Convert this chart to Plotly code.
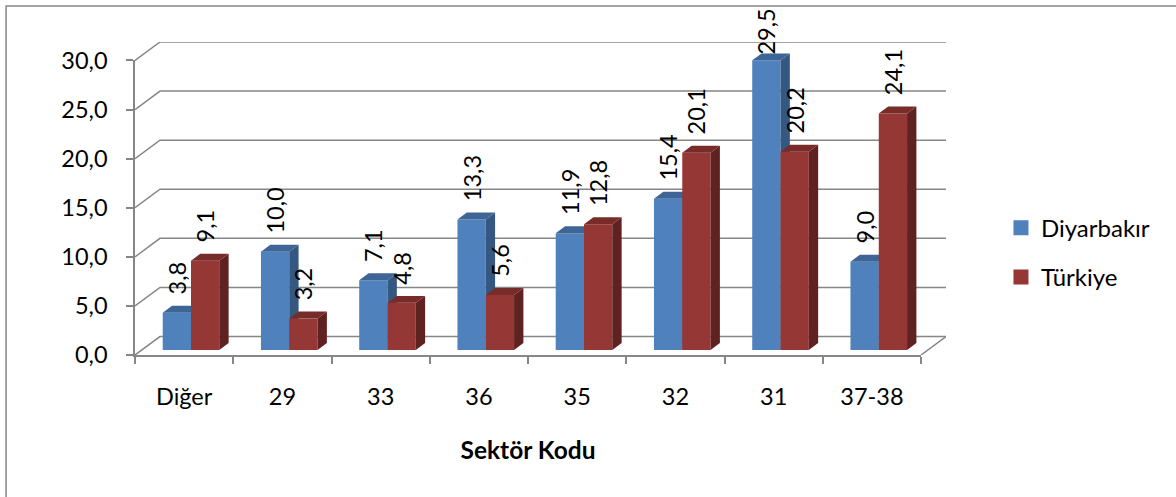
import plotly.graph_objects as go

categories = ["Diğer", "29", "33", "36", "35", "32", "31", "37-38"]
diyarbakir = [3.8, 10.0, 7.1, 13.3, 11.9, 15.4, 29.5, 9.0]
turkiye = [9.1, 3.2, 4.8, 5.6, 12.8, 20.1, 20.2, 24.1]
y_ticks = [0, 5, 10, 15, 20, 25, 30]

W, H = 1176, 497
L, R, T, B = 134.5, 946.0, 41.5, 355.0      # full area, including the back wall
FLOOR_R, WALL_T = 921.0, 60.0               # front plane edges
FONT = "Lato"
GREY = "#868686"
BLUE, BLUE_SIDE, BLUE_TOP = "#4F81BD", "#34587F", "#3E6595"
RED, RED_SIDE, RED_TOP = "#953735", "#5F2220", "#772C2A"

n = len(categories)
X_MAX = n * (R - L) / (FLOOR_R - L)
Y_MAX = 30 * (B - T) / (B - WALL_T)

# Oblique projection constants, in axis units
WALL_DX, WALL_DY = X_MAX - n, Y_MAX - 30
BAR_DX, BAR_DY = 0.095, 0.71
BASE = 0.51
BAR_W = 0.288
BLUE_OFF = 0.282
LIFT = 1.55
LABEL_CAP = 30.3

fig = go.Figure()

# Legend entries live on the base axes (which also carry the visible axis lines)
for name, c in (("Diyarbakır", BLUE), ("Türkiye", RED)):
    fig.add_trace(go.Scatter(x=[None], y=[None], mode="markers", name=name,
                             marker=dict(symbol="square", size=15, color=c),
                             legendgroup=name))

# Back wall grid + floor
gx, gy = [], []
for v in y_ticks:
    gx += [0, WALL_DX, n + WALL_DX, None]
    gy += [v, v + WALL_DY, v + WALL_DY, None]
gx += [n, n + WALL_DX, None]
gy += [0, WALL_DY, None]
fig.add_trace(go.Scatter(x=gx, y=gy, mode="lines", line=dict(color=GREY, width=1.5),
                         cliponaxis=False, showlegend=False, hoverinfo="skip",
                         xaxis="x2", yaxis="y2"))


def add_series(values, off, front, side, top, name, axis_no):
    xa, ya = f"x{axis_no}", f"y{axis_no}"
    xs = [i + off for i in range(n)]
    fig.add_trace(go.Bar(x=xs, y=values, base=[BASE] * n, width=BAR_W, offset=0,
                         marker=dict(color=front, line=dict(width=0)),
                         name=name, xaxis=xa, yaxis=ya, cliponaxis=False,
                         showlegend=False, legendgroup=name))
    sx, sy, tx, ty = [], [], [], []
    for x0, v in zip(xs, values):
        x1 = x0 + BAR_W
        yt = BASE + v
        sx += [x1, x1 + BAR_DX, x1 + BAR_DX, x1, x1, None]
        sy += [BASE, BASE + BAR_DY, yt + BAR_DY, yt, BASE, None]
        tx += [x0, x1, x1 + BAR_DX, x0 + BAR_DX, x0, None]
        ty += [yt, yt, yt + BAR_DY, yt + BAR_DY, yt, None]
    for px, py, c in ((sx, sy, side), (tx, ty, top)):
        fig.add_trace(go.Scatter(x=px, y=py, mode="lines", fill="toself", fillcolor=c,
                                 line=dict(width=0, color=c), xaxis=xa, yaxis=ya,
                                 cliponaxis=False, showlegend=False, hoverinfo="skip",
                                 legendgroup=name))


def add_labels(values, off, axis_no):
    xa, ya = f"x{axis_no}", f"y{axis_no}"
    xs = [i + off for i in range(n)]
    text = [f"{v:.1f}".replace(".", ",") for v in values]
    lifted = [min(v + LIFT, LABEL_CAP - BASE) for v in values]
    fig.add_trace(go.Bar(x=xs, y=lifted, base=[BASE] * n, width=BAR_W, offset=0,
                         marker=dict(color="rgba(0,0,0,0)", line=dict(width=0)),
                         text=text, textposition="outside", textangle=-90,
                         constraintext="none", cliponaxis=False,
                         outsidetextfont=dict(family=FONT, size=23.5, color="#000000"),
                         xaxis=xa, yaxis=ya, showlegend=False, hoverinfo="skip"))


add_series(diyarbakir, BLUE_OFF, BLUE, BLUE_SIDE, BLUE_TOP, "Diyarbakır", 3)
add_labels(diyarbakir, BLUE_OFF, 4)
add_series(turkiye, BLUE_OFF + BAR_W, RED, RED_SIDE, RED_TOP, "Türkiye", 5)
add_labels(turkiye, BLUE_OFF + BAR_W, 6)

layout_axes = {}
for k in (2, 3, 4, 5, 6):
    layout_axes[f"xaxis{k}"] = dict(anchor=f"y{k}", domain=[0, 1], range=[0, X_MAX],
                                    visible=False, fixedrange=True)
    layout_axes[f"yaxis{k}"] = dict(anchor=f"x{k}", domain=[0, 1], range=[0, Y_MAX],
                                    visible=False, fixedrange=True)

fig.update_layout(
    width=W, height=H, autosize=False,
    margin=dict(l=L, r=W - R, t=T, b=H - B, pad=0),
    paper_bgcolor="white", plot_bgcolor="rgba(0,0,0,0)",
    barmode="overlay", separators=",.",
    font=dict(family=FONT, size=23.5, color="#000000"),
    xaxis=dict(domain=[0, n / X_MAX], range=[0, n], tickmode="array",
               tickvals=[i + 0.5 for i in range(n)], ticktext=categories,
               ticks="outside", ticklen=0, tickwidth=0, ticklabelstandoff=20,
               tickfont=dict(family=FONT, size=23.5),
               minor=dict(tickmode="array", tickvals=list(range(n + 1)), ticks="outside",
                          ticklen=7, tickwidth=1.5, tickcolor=GREY, showgrid=False),
               showline=True, linecolor=GREY, linewidth=1.5, showgrid=False, zeroline=False,
               title=dict(text="<b>Sektör Kodu</b>", standoff=33,
                          font=dict(family=FONT, size=24.5))),
    yaxis=dict(domain=[0, 30 / Y_MAX], range=[0, 30], tickmode="array", tickvals=y_ticks,
               tickformat=".1f", ticks="outside", ticklen=7, tickwidth=1.5, tickcolor=GREY,
               ticklabelstandoff=14, tickfont=dict(family=FONT, size=23.5),
               showline=True, linecolor=GREY, linewidth=1.5, showgrid=False, zeroline=False),
    legend=dict(x=(1001 - L) / (R - L), y=(B - 205.5) / (B - T), xanchor="left", yanchor="top",
                bgcolor="rgba(0,0,0,0)", borderwidth=0, tracegroupgap=15,
                font=dict(family=FONT, size=24)),
    shapes=[dict(type="rect", xref="paper", yref="paper",
                 x0=(5.5 - L) / (R - L), x1=(W + 20 - L) / (R - L),
                 y0=(B - H - 20) / (B - T), y1=(B - 5.5) / (B - T),
                 line=dict(color=GREY, width=1.5), fillcolor="rgba(0,0,0,0)", layer="below")],
    **layout_axes,
)

fig.write_html("out.html", config=dict(displayModeBar=False),
               post_script="document.body.style.margin='0';document.body.style.overflow='hidden';")
